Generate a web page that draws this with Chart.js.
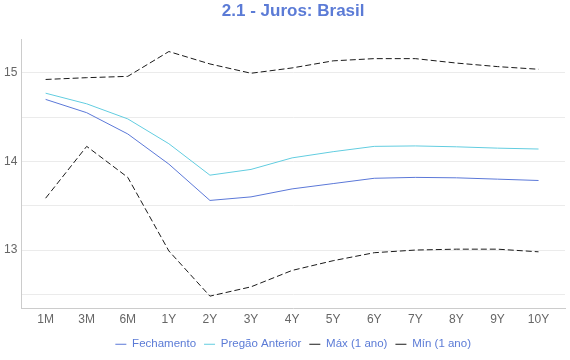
<!DOCTYPE html>
<html>
<head>
<meta charset="utf-8">
<script src="https://cdn.jsdelivr.net/npm/chart.js@4"></script>
<style>
html,body{margin:0;padding:0;background:#fff;}
#wrap{width:570px;height:360px;position:relative;}
</style>
</head>
<body>
<div id="wrap"><canvas id="c" width="570" height="360"></canvas></div>
<script>
const categories = ['1M','3M','6M','1Y','2Y','3Y','4Y','5Y','6Y','7Y','8Y','9Y','10Y'];
const fechamento = [14.70,14.55,14.31,13.97,13.56,13.60,13.69,13.75,13.81,13.82,13.815,13.80,13.785];
const pregaoAnterior = [14.77,14.65,14.48,14.20,13.845,13.91,14.04,14.11,14.17,14.175,14.165,14.15,14.14];
const max1ano = [14.925,14.945,14.96,15.24,15.10,14.995,15.055,15.135,15.16,15.16,15.11,15.07,15.04];
const min1ano = [13.585,14.17,13.82,12.99,12.48,12.585,12.77,12.88,12.97,13.0,13.01,13.01,12.98];
const yGridValues = [12.5,13,13.5,14,14.5,15];
const yLabelValues = [13,14,15];

const toXY = arr => arr.map((v,i)=>({x:i,y:v}));
const FONT = '"Liberation Sans", Arial, Helvetica, sans-serif';

const centerPlugin = {
  id:'centerBoxes',
  afterLayout(chart){
    const a = chart.chartArea;
    const t = chart.titleBlock;
    if (t){ t.left = a.left; t.right = a.right; t.width = a.right - a.left; }
    const l = chart.legend;
    if (l){ l.left = a.left; l.right = a.right; l.width = a.right - a.left; if (l.adjustHitBoxes) l.adjustHitBoxes(); }
  }
};

new Chart(document.getElementById('c'), {
  type:'line',
  data:{
    datasets:[
      {label:'Fechamento', data:toXY(fechamento), borderColor:'#5b78d8', backgroundColor:'#5b78d8', borderWidth:1, pointRadius:0, tension:0},
      {label:'Pregão Anterior', data:toXY(pregaoAnterior), borderColor:'#62cde0', backgroundColor:'#62cde0', borderWidth:1, pointRadius:0, tension:0},
      {label:'Máx (1 ano)', data:toXY(max1ano), borderColor:'#1a1a1a', backgroundColor:'#1a1a1a', borderWidth:1, borderDash:[6,3], pointRadius:0, tension:0},
      {label:'Mín (1 ano)', data:toXY(min1ano), borderColor:'#1a1a1a', backgroundColor:'#1a1a1a', borderWidth:1, borderDash:[6,3], pointRadius:0, tension:0}
    ]
  },
  options:{
    responsive:false,
    animation:false,
    layout:{padding:{left:0,right:5,top:0,bottom:0}},
    plugins:{
      title:{display:true, text:'2.1 - Juros: Brasil', color:'#5b7bd6', font:{family:FONT, size:17, weight:'bold'}, padding:{top:1,bottom:18}},
      legend:{position:'bottom', labels:{color:'#5b7bd6', font:{family:FONT,size:11.5}, usePointStyle:true, pointStyle:'line', pointStyleWidth:11, boxHeight:8, padding:8}},
      tooltip:{enabled:false}
    },
    scales:{
      x:{
        type:'linear', min:-0.591, max:12.644, offset:false,
        grid:{display:true, color:'rgba(0,0,0,0)', drawTicks:false},
        border:{display:true, color:'#cccccc', width:1},
        afterBuildTicks: s => { s.ticks = categories.map((_,i)=>({value:i})); },
        ticks:{color:'#666', font:{family:FONT,size:12}, padding:4, maxRotation:0, autoSkip:false,
          callback: v => categories[v] !== undefined ? categories[v] : ''}
      },
      y:{
        type:'linear', min:12.345, max:15.377,
        grid:{color:'#ebebeb', drawTicks:false},
        border:{display:true, color:'#cccccc', width:1},
        afterBuildTicks: s => { s.ticks = yGridValues.map(v=>({value:v})); },
        ticks:{color:'#666', font:{family:FONT,size:12}, padding:4,
          callback: v => yLabelValues.includes(v) ? String(v) : ''}
      }
    }
  },
  plugins:[centerPlugin]
});
</script>
</body>
</html>
